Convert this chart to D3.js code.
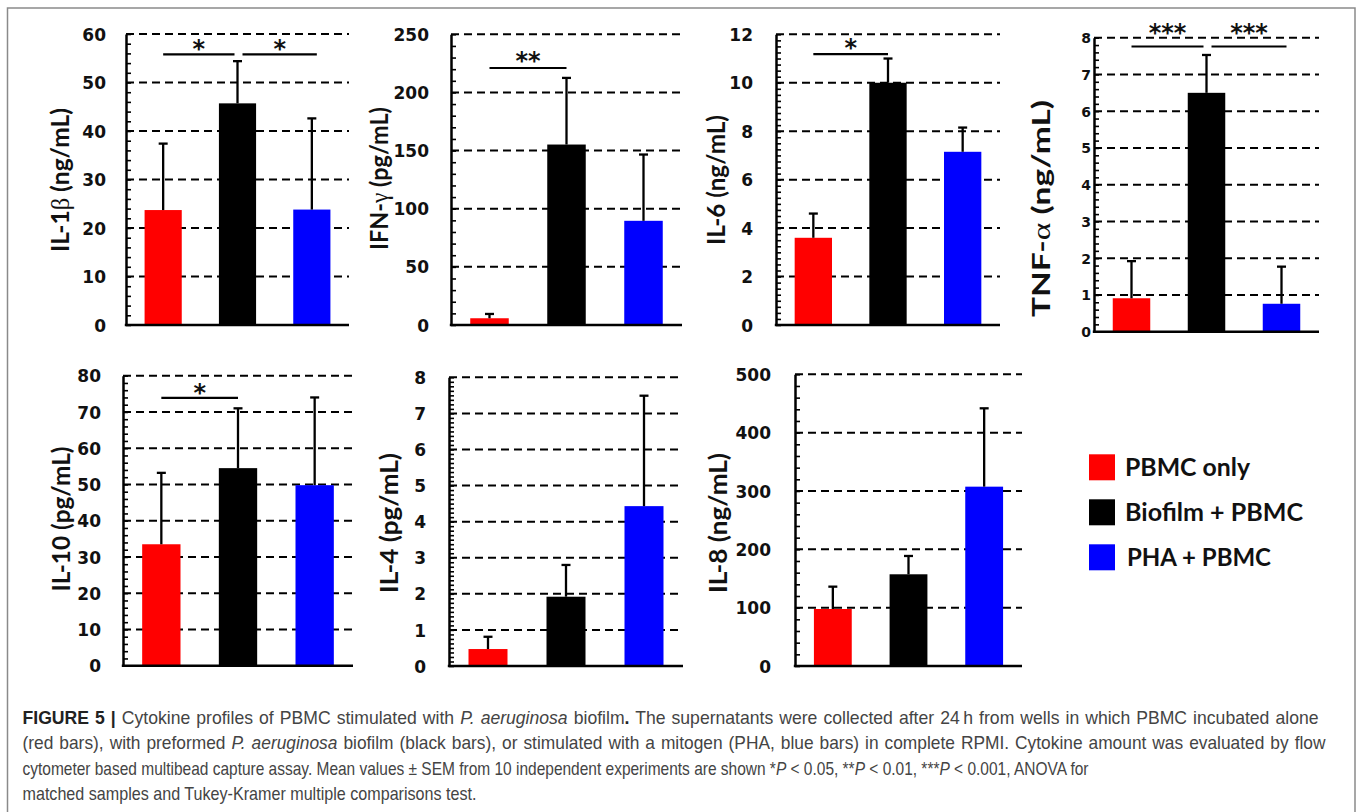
<!DOCTYPE html>
<html>
<head>
<meta charset="utf-8">
<script src="https://cdn.jsdelivr.net/npm/d3@7"></script>
<style>
  body { margin: 0; background: #fff; }
  svg { display: block; }
</style>
</head>
<body>
<script>
// Cytokine profiles of PBMC - 7 small bar panels + legend + caption

const groups = ['PBMC only', 'Biofilm + PBMC', 'PHA + PBMC'];
const groupColors = ['#ff0000', '#000000', '#0000ff'];

const cytokines = ['IL-1β', 'IFN-γ', 'IL-6', 'TNF-α', 'IL-10', 'IL-4', 'IL-8'];
const units = ['ng/mL', 'pg/mL', 'ng/mL', 'ng/mL', 'pg/mL', 'pg/mL', 'ng/mL'];

// mean values per cytokine, in group order
const meanValues = [
  [23.7, 45.7, 23.8],
  [5.8, 155.2, 89.6],
  [3.6, 10.0, 7.15],
  [0.91, 6.5, 0.76],
  [33.5, 54.5, 49.8],
  [0.47, 1.92, 4.43],
  [97.7, 157.2, 307.4]
];
// SEM (upper error bar only)
const semValues = [
  [13.7, 8.7, 18.8],
  [3.7, 57.3, 57.0],
  [1.0, 1.0, 1.0],
  [1.01, 1.03, 1.01],
  [19.7, 16.5, 24.2],
  [0.34, 0.88, 3.06],
  [38.3, 31.4, 134.3]
];

const yMax = [60, 250, 12, 8, 80, 8, 500];
const majorStep = [10, 50, 2, 1, 10, 1, 100];
const minorStep = [2, 10, 0.25, 0.2, 2, 0.125, 20];

// significance brackets: [fromGroup, toGroup, label, level in data units]
const brackets = [
  [[0, 1, '*', 55.8], [1, 2, '*', 55.8]],
  [[0, 1, '**', 221]],
  [[0, 1, '*', 11.18]],
  [[0, 1, '***', 7.76], [1, 2, '***', 7.76]],
  [[0, 1, '*', 73.9]],
  [],
  []
];

// panel layout (pixels)
const layout = [
  { x0: 126, x1: 349, y0: 34, y1: 325, lx: 69, ly: 180, llen: 144, pad: 20, tick: 17, starDy: 3 },
  { x0: 451, x1: 682, y0: 34.3, y1: 325, lx: 388, ly: 178.5, llen: 143, pad: 22, tick: 17, starDy: 1 },
  { x0: 776, x1: 1000, y0: 34.3, y1: 325, lx: 725, ly: 180, llen: 130, pad: 23, tick: 17, starDy: 1.6 },
  { x0: 1094, x1: 1319, y0: 37.7, y1: 331.7, lx: 1050, ly: 208.5, llen: 217, pad: 3, tick: 14, starDy: -6 },
  { x0: 123, x1: 353, y0: 375.7, y1: 665.7, lx: 70, ly: 519, llen: 145, pad: 22, tick: 17, starDy: 3 },
  { x0: 449, x1: 683, y0: 377.3, y1: 666, lx: 398, ly: 523, llen: 140, pad: 23, tick: 17, starDy: 2 },
  { x0: 795, x1: 1022, y0: 374.3, y1: 666, lx: 727, ly: 523, llen: 140, pad: 24, tick: 17, starDy: 2 }
];

const W = 1358, H = 812;
const svg = d3.select('body').append('svg')
  .attr('width', W)
  .attr('height', H);

// Outer frame
svg.append('path')
  .attr('d', `M7.5,${H + 5}V8H1355V${H + 5}`)
  .attr('fill', 'none')
  .attr('stroke', '#8a8a8a')
  .attr('stroke-width', 1.5);

cytokines.forEach((name, i) => {
  const p = layout[i];
  const g = svg.append('g');

  const x = d3.scaleBand()
    .domain(groups)
    .range([p.x0, p.x1])
    .paddingInner(0.5)
    .paddingOuter(0.25);
  const y = d3.scaleLinear()
    .domain([0, yMax[i]])
    .range([p.y1, p.y0]);

  const nMajor = Math.round(yMax[i] / majorStep[i]);
  const majors = d3.range(0, nMajor + 1).map(k => k * majorStep[i]);
  const nMinor = Math.round(yMax[i] / minorStep[i]);
  const minors = d3.range(0, nMinor + 1).map(k => k * minorStep[i]);

  // Dashed gridlines
  g.append('g').selectAll('line')
    .data(majors.slice(1))
    .join('line')
    .attr('x1', p.x0).attr('x2', p.x1)
    .attr('y1', d => y(d)).attr('y2', d => y(d))
    .attr('stroke', '#000')
    .attr('stroke-width', 2)
    .attr('stroke-dasharray', '8,5');

  // Bars
  const rows = groups.map((gname, j) => ({ group: gname, mean: meanValues[i][j], sem: semValues[i][j], color: groupColors[j] }));
  g.append('g').selectAll('rect')
    .data(rows)
    .join('rect')
    .attr('x', d => x(d.group))
    .attr('width', x.bandwidth())
    .attr('y', d => y(d.mean))
    .attr('height', d => y(0) - y(d.mean))
    .attr('fill', d => d.color);

  // Error bars (upper)
  const err = g.append('g').attr('stroke', '#000').attr('stroke-width', 2.3);
  err.selectAll('line.v')
    .data(rows)
    .join('line')
    .attr('class', 'v')
    .attr('x1', d => x(d.group) + x.bandwidth() / 2)
    .attr('x2', d => x(d.group) + x.bandwidth() / 2)
    .attr('y1', d => y(d.mean))
    .attr('y2', d => y(d.mean + d.sem));
  err.selectAll('line.c')
    .data(rows)
    .join('line')
    .attr('class', 'c')
    .attr('x1', d => x(d.group) + x.bandwidth() / 2 - 4.5)
    .attr('x2', d => x(d.group) + x.bandwidth() / 2 + 4.5)
    .attr('y1', d => y(d.mean + d.sem))
    .attr('y2', d => y(d.mean + d.sem));

  // Y axis: labels (left) and minor ticks (inside)
  const labelAxis = d3.axisLeft(y)
    .tickValues(majors)
    .tickSize(0)
    .tickPadding(p.pad)
    .tickFormat(d3.format('~g'));
  const gl = g.append('g').attr('transform', `translate(${p.x0},0)`).call(labelAxis);
  gl.select('.domain').remove();
  gl.selectAll('text')
    .attr('dy', '0.36em')
    .attr('fill', '#111')
    .style('font-family', '"DejaVu Sans", sans-serif')
    .style('font-weight', 700)
    .style('font-size', p.tick + 'px');

  const tickAxis = d3.axisRight(y)
    .tickValues(minors)
    .tickSize(5)
    .tickSizeOuter(0)
    .tickFormat('');
  const gt = g.append('g').attr('transform', `translate(${p.x0},0)`).call(tickAxis);
  gt.select('.domain').attr('stroke', '#000').attr('stroke-width', 2.5);
  gt.selectAll('.tick line').attr('stroke', '#000').attr('stroke-width', 1.6);

  // X axis baseline
  g.append('line')
    .attr('x1', p.x0 - 1.2).attr('x2', p.x1)
    .attr('y1', y(0)).attr('y2', y(0))
    .attr('stroke', '#000')
    .attr('stroke-width', 2.5);

  // Significance brackets
  const cx = j => x(groups[j]) + x.bandwidth() / 2;
  brackets[i].forEach(([a, b, lab, lvl], k) => {
    const shared = brackets[i].length > 1;
    const xa = cx(a) + (shared && k === 1 ? 5 : 0);
    const xb = cx(b) + (shared && k === 0 ? -3 : (shared ? 5 : 0));
    g.append('line')
      .attr('x1', xa).attr('x2', xb)
      .attr('y1', y(lvl)).attr('y2', y(lvl))
      .attr('stroke', '#000')
      .attr('stroke-width', 2.2);
    g.append('text')
      .attr('x', (xa + xb) / 2)
      .attr('y', y(lvl) + p.starDy)
      .attr('text-anchor', 'middle')
      .attr('fill', '#111')
      .style('font-family', '"DejaVu Sans", sans-serif')
      .style('font-weight', 700)
      .style('font-size', '24px')
      .text(lab);
  });

  // Axis title (rotated)
  const greek = name.match(/[α-ω]/);
  const t = g.append('text')
    .attr('transform', `translate(${p.lx},${p.ly + p.llen / 2}) rotate(-90)`)
    .attr('x', 0).attr('y', 0)
    .attr('text-anchor', 'start')
    .attr('textLength', p.llen)
    .attr('lengthAdjust', 'spacingAndGlyphs')
    .attr('fill', '#111')
    .style('font-family', 'Lato, "Open Sans", sans-serif')
    .style('font-weight', 700)
    .style('font-size', '25px');
  if (greek) {
    const idx = name.indexOf(greek[0]);
    t.append('tspan').text(name.slice(0, idx));
    t.append('tspan')
      .style('font-family', '"Liberation Serif", serif')
      .style('font-weight', 400)
      .text(greek[0]);
    t.append('tspan').text(name.slice(idx + 1) + ' (' + units[i] + ')');
  } else {
    t.append('tspan').text(name + ' (' + units[i] + ')');
  }
});

// Legend
const legendY = d3.scalePoint().domain(groups).range([454.3, 544.3]);
const legendLen = [125, 178, 144];
const leg = svg.append('g');
groups.forEach((gname, j) => {
  leg.append('rect')
    .attr('x', 1089).attr('y', legendY(gname))
    .attr('width', 26).attr('height', 26)
    .attr('fill', groupColors[j]);
  leg.append('text')
    .attr('x', j === 2 ? 1127 : 1125)
    .attr('y', legendY(gname) + 21.5)
    .attr('textLength', legendLen[j])
    .attr('lengthAdjust', 'spacingAndGlyphs')
    .attr('fill', '#111')
    .style('font-family', 'Lato, "Open Sans", sans-serif')
    .style('font-weight', 700)
    .style('font-size', '24px')
    .text(gname);
});

// Caption: common horizontal scale; justified lines get a little word
// spacing and every line is then fitted to its measured width
const captionLines = [
  [['FIGURE 5 |', 'b'], [' Cytokine profiles of PBMC stimulated with '], ['P. aeruginosa', 'i'], [' biofilm'], ['.', 'b'],
   [' The supernatants were collected after 24\u2009h from wells in which PBMC incubated alone']],
  [['(red bars), with preformed '], ['P. aeruginosa', 'i'],
   [' biofilm (black bars), or stimulated with a mitogen (PHA, blue bars) in complete RPMI. Cytokine amount was evaluated by flow']],
  [['cytometer based multibead capture assay. Mean values \u00b1 SEM from 10 independent experiments are shown *'], ['P', 'i'],
   [' < 0.05, **'], ['P', 'i'], [' < 0.01, ***'], ['P', 'i'], [' < 0.001, ANOVA for']],
  [['matched samples and Tukey-Kramer multiple comparisons test.']]
];
const captionLen = [1296, 1303, 1066, 454];
const captionY = d3.scaleLinear().domain([0, 3]).range([724, 800]);

const capTexts = captionLines.map((parts, li) => {
  const t = svg.append('text')
    .attr('x', 0)
    .attr('y', 0)
    .attr('fill', '#444')
    .style('font-family', '"Liberation Sans", Arial, sans-serif')
    .style('font-size', '18px');
  parts.forEach(([s, st]) => {
    const ts = t.append('tspan').text(s);
    if (st === 'b') ts.style('font-weight', 700).attr('fill', '#222');
    if (st === 'i') ts.style('font-style', 'italic');
  });
  return t;
});
const naturals = capTexts.map(t => t.node().getComputedTextLength());
const sx = d3.mean(naturals, (n, li) => captionLen[li] / n);
capTexts.forEach((t, li) => {
  t.attr('transform', `translate(22.5,${captionY(li)}) scale(${sx},1)`);
  if (li < 2) t.style('word-spacing', '1.2px');
  t.attr('textLength', captionLen[li] / sx).attr('lengthAdjust', 'spacingAndGlyphs');
});
</script>
</body>
</html>
